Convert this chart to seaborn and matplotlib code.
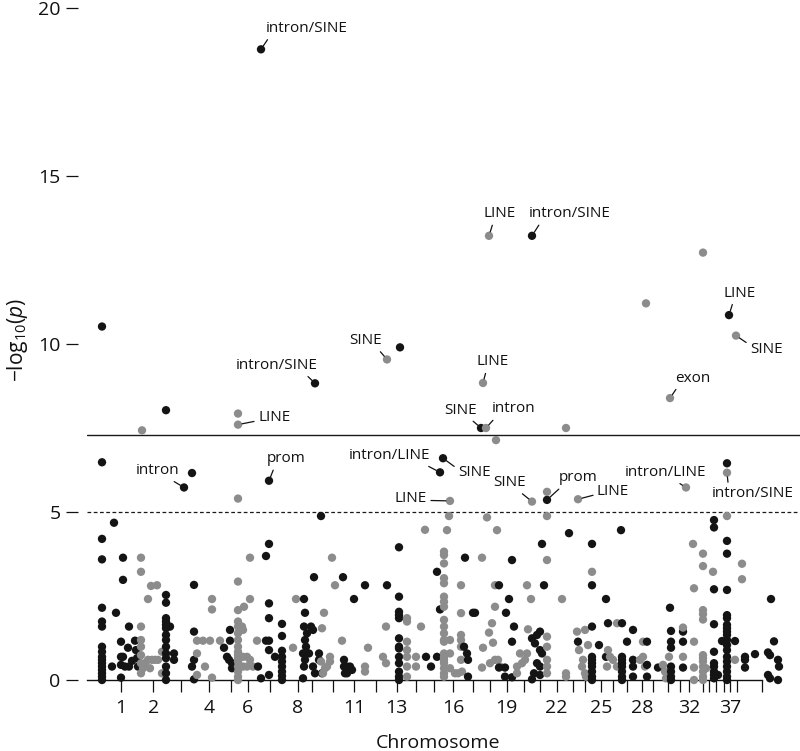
import matplotlib
matplotlib.use('Agg')
import matplotlib.pyplot as plt
import seaborn as sns
import pandas as pd

# chromosome midpoints on the cumulative genome axis (39 = X, unlabelled)
chrom_ids = list(range(1, 40))
chrom_mid = [120.7, 153.3, 180.7, 209.3, 231, 247.7, 270, 298, 312, 332.7,
             354, 376, 396.7, 415.7, 434.3, 453.3, 472.7, 490, 506.7, 524,
             540, 556.7, 573.3, 585, 600.7, 613, 627, 641.7, 653, 668,
             680, 689.3, 703.3, 709.3, 715.7, 724, 730, 736.7, 761.7]
shown_labels = [1, 2, 4, 6, 8, 11, 13, 16, 19, 22, 25, 28, 32, 37]

# cumulative position and -log10(p) of each marker, one row per chromosome
pos = [
    [102]*17 + [114, 116, 112, 123, 123, 129, 121, 128, 135, 136, 121, 123, 121, 125, 129, 132, 121, 137, 138],
    [142, 141, 141, 151, 157, 148] + [141]*6 + [145, 148, 152, 155, 158, 162, 162, 150, 143],
    [166]*15 + [170, 174, 174, 192, 184, 194, 194, 192, 194, 194],
    [197, 197, 197, 203, 210, 205, 212, 212, 212, 220],
    [224, 230, 230, 227, 229, 232, 232],
    [238]*18 + [244, 242, 243, 243, 247, 250, 253, 247, 243, 250, 250, 257],
    [261, 269, 258, 261, 266, 269, 269, 269, 266, 269, 269, 275, 269] + [282]*9,
    [293, 296],
    [315, 321, 304, 305, 304, 307, 305, 306, 303, 305, 304, 303, 311, 313, 309, 313, 319, 319, 315, 322, 314],
    [324, 322, 323, 330, 327, 332, 335, 342, 321, 330, 325],
    [343, 344, 344, 347, 350, 352, 345, 347, 354, 365],
    [365, 365, 368, 383, 386, 386, 387],
    [400, 387] + [399]*13,
    [407]*7 + [416, 416, 421, 425],
    [443, 440, 426, 431, 437, 440, 437],
    [450, 449, 447] + [444]*20 + [450, 450, 450, 455, 458, 462] + [461]*6,
    [465, 464, 467, 468, 468, 473, 475, 481],
    [489, 483, 486, 496, 487, 497, 482, 495, 495, 492, 489, 493, 483, 482, 490, 495, 498, 500],
    [499, 509, 512, 506, 514, 512, 499, 505, 505, 512],
    [532, 517, 517, 520, 527, 528, 531, 527, 522, 525],
    [532, 547, 542, 544, 540, 532, 535, 537, 540, 542, 537, 540, 534, 540, 532],
    [547, 547, 566, 547, 547, 547, 547, 547, 547, 562, 566, 566],
    [569, 578],
    [578, 577, 579, 585, 588, 583, 582, 585, 586, 592],
    [592]*10 + [599, 606, 606, 608],
    [608, 610, 613, 617, 607, 617],
    [621] + [622]*8 + [627, 633, 633, 633, 633],
    [640, 643, 645, 643, 646],
    [647, 647, 647, 658],
    [663, 665, 666, 669, 670],
    [670] + [671]*7 + [683, 683, 683],
    [686, 683, 683, 693, 694, 694, 694, 694],
    [],
    [703]*13 + [706, 713],
    [714]*10 + [718],
    [727, 727],
    [729] + [727]*19 + [722, 735],
    [736, 742, 742, 735],
    [745, 745, 745, 755, 768, 770, 774, 771, 778, 779, 768, 770, 778],
]
logp = [
    [10.52, 6.48, 4.2, 3.59, 2.15, 1.74, 1.59, 0.99, 0.84, 0.69, 0.6, 0.5, 0.4, 0.3, 0.2, 0.1, 0.0,
     4.68, 2.0, 0.4, 3.64, 2.98, 1.59, 1.14, 0.96, 1.17, 0.89, 0.69, 0.69, 0.45, 0.4, 0.4, 0.57, 0.07, 0.65, 0.4],
    [7.43, 3.64, 3.22, 2.8, 2.82, 2.41, 1.59, 1.19, 0.99, 0.74, 0.5, 0.2, 0.5, 0.6, 0.6, 0.6, 0.6, 0.84, 0.2, 0.35, 0.35],
    [8.03, 2.53, 2.3, 1.84, 1.74, 1.64, 1.54, 1.34, 1.19, 0.99, 0.79, 0.65, 0.4, 0.2, 0.0,
     1.59, 0.79, 0.6, 6.16, 5.73, 2.83, 1.44, 0.4, 0.6, 0.02],
    [0.79, 0.15, 1.17, 1.17, 1.17, 0.4, 2.41, 2.1, 0.07, 1.17],
    [0.96, 1.49, 1.17, 0.69, 0.6, 0.5, 0.35],
    [7.93, 7.6, 5.4, 2.93, 2.08, 1.74, 1.59, 1.39, 1.19, 0.99, 0.84, 0.74, 0.65, 0.55, 0.4, 0.25, 0.1, 0.0,
     2.18, 1.59, 1.49, 0.69, 0.69, 0.6, 0.4, 0.4, 0.4, 3.64, 2.41, 1.17],
    [18.77, 5.93, 0.4, 0.05, 3.69, 4.05, 2.28, 1.84, 1.17, 1.17, 0.89, 0.69, 0.15,
     1.67, 1.31, 0.87, 0.69, 0.55, 0.4, 0.25, 0.12, 0.0],
    [0.96, 2.41],
    [8.83, 4.88, 2.41, 2.0, 1.59, 1.39, 1.19, 0.99, 0.79, 0.6, 0.4, 0.05, 1.59, 1.49, 0.79, 0.4, 0.79, 0.6, 0.2, 0.2, 3.06],
    [2.0, 1.54, 0.2, 0.69, 0.4, 3.64, 2.82, 1.17, 0.55, 0.55, 0.35],
    [3.06, 0.6, 0.4, 0.4, 0.4, 0.3, 0.2, 0.2, 2.41, 2.82],
    [0.4, 0.25, 0.96, 0.69, 0.5, 1.59, 9.54],
    [9.9, 2.82, 3.95, 2.48, 2.03, 1.93, 1.84, 1.24, 0.99, 0.94, 0.69, 0.5, 0.25, 0.1, 0.0],
    [1.84, 1.74, 1.14, 0.89, 0.69, 0.4, 0.1, 0.69, 0.4, 1.59, 4.47],
    [6.6, 6.18, 0.69, 0.4, 3.22, 2.1, 0.69],
    [5.33, 4.88, 4.46, 3.82, 3.72, 3.47, 3.03, 2.88, 2.48, 2.33, 2.18, 1.79, 1.59, 1.39, 1.19, 1.14, 0.79, 0.69,
     0.6, 0.5, 0.35, 0.2, 0.1, 1.19, 0.79, 0.35, 0.2, 0.2, 0.25, 2.82, 1.99, 1.34, 1.19, 0.99, 0.6],
    [3.64, 0.99, 0.79, 0.6, 0.1, 2.0, 2.0, 7.5],
    [13.22, 8.84, 7.5, 7.14, 4.84, 4.46, 3.64, 2.82, 2.18, 1.69, 1.41, 1.11, 0.96, 0.37, 0.5, 0.6, 0.6, 0.4],
    [2.82, 2.41, 3.57, 2.0, 1.59, 1.14, 0.37, 0.37, 0.1, 0.08],
    [5.31, 0.4, 0.2, 0.79, 0.79, 1.51, 2.41, 2.82, 0.5, 0.6],
    [13.22, 5.36, 4.05, 2.82, 1.44, 1.24, 1.09, 1.34, 0.89, 0.79, 0.5, 0.4, 0.2, 0.15, 0.02],
    [5.6, 4.88, 7.5, 3.57, 1.29, 0.99, 0.6, 0.4, 0.2, 2.41, 0.2, 0.1],
    [4.37, 1.14],
    [5.38, 1.44, 0.89, 1.49, 1.04, 0.6, 0.4, 0.2, 0.1, 3.22],
    [4.05, 2.82, 1.59, 0.69, 0.6, 0.5, 0.4, 0.25, 0.1, 0.0, 1.04, 2.41, 0.69, 1.69],
    [0.89, 0.69, 0.6, 0.4, 0.4, 1.69],
    [4.46, 1.69, 0.69, 0.6, 0.5, 0.4, 0.25, 0.1, 0.0, 1.14, 1.49, 0.6, 0.4, 0.1],
    [0.6, 0.69, 0.4, 1.14, 11.21],
    [1.14, 0.45, 0.1, 0.37],
    [0.45, 0.25, 0.05, 0.69, 8.39],
    [2.15, 1.46, 1.14, 0.96, 0.4, 0.25, 0.1, 0.0, 1.44, 1.14, 0.37],
    [5.73, 1.56, 0.69, 4.05, 2.73, 1.14, 0.37, 0.0],
    [],
    [12.72, 3.76, 3.39, 2.08, 1.96, 1.8, 0.74, 0.65, 0.55, 0.4, 0.25, 0.1, 0.0, 0.35, 3.22],
    [4.76, 4.54, 2.7, 1.66, 0.84, 0.5, 0.4, 0.25, 0.15, 0.05, 0.15],
    [6.17, 4.88],
    [10.86, 6.45, 4.14, 3.76, 2.68, 1.93, 1.84, 1.64, 1.54, 1.44, 1.34, 1.19, 1.04, 0.89, 0.69, 0.55, 0.4,
     0.25, 0.1, 0.0, 1.16, 1.16],
    [10.25, 3.46, 3.0, 0.6],
    [0.69, 0.6, 0.37, 0.77, 0.82, 0.74, 1.15, 2.41, 0.6, 0.4, 0.15, 0.05, 0.0],
]

# annotated markers
ann_text = ['intron/SINE', 'LINE', 'intron/SINE', 'LINE', 'SINE', 'SINE', 'intron/SINE', 'LINE',
            'exon', 'LINE', 'SINE', 'intron', 'intron', 'prom', 'intron/LINE', 'SINE', 'LINE',
            'SINE', 'prom', 'LINE', 'intron/LINE', 'intron/SINE']
ann_pos = [261, 489, 532, 729, 736, 387, 315, 483, 670, 238, 481, 486, 184, 269, 440, 443, 450,
           532, 547, 578, 686, 727]
ann_logp = [18.77, 13.22, 13.22, 10.86, 10.25, 9.54, 8.83, 8.84, 8.39, 7.6, 7.5, 7.5, 5.73, 5.93,
            6.18, 6.6, 5.33, 5.31, 5.36, 5.38, 5.73, 6.17]

# label placement: text offset (px), alignment, leader start on text box
ann_layout = [(5, 21, 'left', (0.05, 0)), (11, 22, 'center', (0.3, 0)), (-3, 22, 'left', (0.15, 0)),
              (11, 22, 'center', (0.3, 0)), (14, -14, 'left', (0, 0.8)), (-5, 19, 'right', (0.85, 0)),
              (3, 18, 'right', (0.83, 0)), (10, 21, 'center', (0.3, 0)), (5, 20, 'left', (0.1, 0)),
              (20, 7, 'left', (0, 0.3)), (-4, 18, 'right', (0.75, 0)), (6, 19, 'left', (0.1, 0)),
              (-5, 17, 'right', (0.75, 0)), (-2, 22, 'left', (0.2, 0)), (-10, 17, 'right', (0.9, 0)),
              (15, -14, 'left', (0, 0.7)), (-23, 2, 'right', (1.0, 0.4)), (-6, 19, 'right', (0.75, 0)),
              (12, 22, 'left', (0.1, 0)), (19, 8, 'left', (0, 0.3)), (-20, 15, 'center', (0.6, 0)),
              (-15, -21, 'left', (0.2, 1.0))]

rows = []
for c, xs, ys in zip(chrom_ids, pos, logp):
    assert len(xs) == len(ys), c
    for x, y in zip(xs, ys):
        rows.append((c, x, y))
df = pd.DataFrame(rows, columns=['chrom', 'pos', 'logp'])
df['shade'] = df['chrom'] % 2

sns.set_theme(style='white')
plt.rcParams['font.family'] = ['Open Sans', 'DejaVu Sans']
plt.rcParams['mathtext.fontset'] = 'custom'
plt.rcParams['mathtext.rm'] = 'Open Sans'
plt.rcParams['mathtext.it'] = 'Open Sans:italic'

fig = plt.figure(figsize=(8, 7.51), dpi=100)
ax = fig.add_axes([87 / 800, 1 - 691.76 / 751, 713 / 800, 683.76 / 751])

ax.axhline(7.3, color='#1a1a1a', lw=1.0, zorder=1)
ax.axhline(5, color='#1a1a1a', lw=0.9, ls=(0, (3, 2)), zorder=1)

sns.scatterplot(data=df, x='pos', y='logp', hue='shade', palette={1: '#141414', 0: '#8c8c8c'},
                s=36, linewidth=0, legend=False, ax=ax, zorder=3)

for txt, x, y, (dx, dy, ha, rel) in zip(ann_text, ann_pos, ann_logp, ann_layout):
    ax.annotate(txt, xy=(x, y), xytext=(dx, dy), textcoords='offset pixels', ha=ha, va='center',
                fontsize=11, color='#111111',
                arrowprops=dict(arrowstyle='-', color='#111111', lw=0.9, shrinkA=0.5, shrinkB=3,
                                relpos=rel))

ax.set_xlim(87, 800)
ax.set_ylim(-0.35, 20)

ax.set_xticks(chrom_mid)
ax.set_xticklabels([str(c) if c in shown_labels else '' for c in chrom_ids])
ax.set_yticks([0, 5, 10, 15, 20])
ax.set_yticklabels(['0', '5', '10', '15', '20'])

for side in ['top', 'right']:
    ax.spines[side].set_visible(False)
ax.spines['left'].set_position(('outward', 6.5))
ax.spines['left'].set_visible(False)
ax.spines['bottom'].set_position(('data', 0))
ax.spines['bottom'].set_bounds(87, chrom_mid[-1])
ax.spines['bottom'].set_color('#111111')
ax.spines['bottom'].set_linewidth(1.0)

ax.tick_params(axis='x', bottom=True, direction='out', length=8.6, width=0.9, color='#111111',
               pad=5, labelsize=14, labelcolor='#111111')
ax.tick_params(axis='y', left=True, direction='out', length=8.6, width=0.9, color='#111111',
               pad=4, labelsize=14, labelcolor='#111111')

ax.set_xlabel('Chromosome', fontsize=14, color='#111111')
ax.set_ylabel(r'$-\mathrm{log}_{10}(p)$', fontsize=15, color='#111111')
ax.xaxis.set_label_coords(0.492, -0.062)
ax.yaxis.set_label_coords(-0.08, 0.514)

fig.savefig('out.png', dpi=100)
